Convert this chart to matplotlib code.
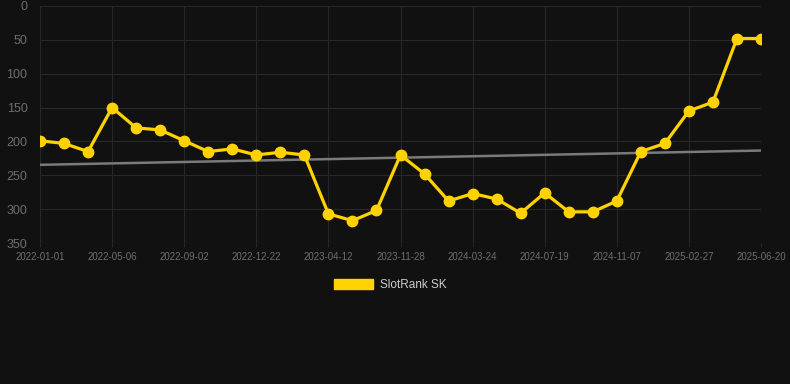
import numpy as np
import matplotlib
matplotlib.use("Agg")
import matplotlib.pyplot as plt
from matplotlib.patches import Patch

plt.rcParams['font.family'] = ['Liberation Sans', 'DejaVu Sans']

values = [199, 203, 215, 150, 180, 183, 199, 215, 211, 220, 216, 220,
          307, 317, 302, 220, 248, 288, 277, 285, 306, 276, 304, 304,
          288, 215, 203, 155, 142, 48, 48]
tick_labels = ["2022-01-01", "2022-05-06", "2022-09-02", "2022-12-22", "2023-04-12",
               "2023-11-28", "2024-03-24", "2024-07-19", "2024-11-07", "2025-02-27",
               "2025-06-20"]
series_name = "SlotRank SK"

bg = "#111111"
gold = "#FFD200"
grid_c = "#282828"

fig = plt.figure(figsize=(7.9, 3.84), dpi=100, facecolor=bg)
W, H = 790, 384
ax = fig.add_axes([40 / W, 1 - 243 / H, (761 - 40) / W, (243 - 6) / H])
ax.set_facecolor(bg)

x = np.arange(len(values))
coef = np.polyfit(x, values, 1)
ax.plot(x, np.polyval(coef, x), color="#7a7a7a", lw=1.8, zorder=2)
ax.plot(x, values, color=gold, lw=2.3, marker="o", ms=7.5, zorder=3)

ax.set_xlim(0, len(values) - 1)
ax.set_ylim(350, 0)
ax.set_yticks(np.arange(0, 351, 50))
ax.set_xticks(x[::3])
ax.set_xticklabels(tick_labels)
ax.grid(True, color=grid_c, lw=0.8)
for s in ax.spines.values():
    s.set_visible(False)
ax.tick_params(axis="y", colors="#6e6e6e", labelsize=9, length=0, pad=9)
ax.tick_params(axis="x", colors=grid_c, labelcolor="#6e6e6e", labelsize=7,
               length=3, width=0.8, pad=3.5)

handle = Patch(facecolor=gold, edgecolor=gold)
leg = fig.legend([handle], [series_name], loc="center", bbox_to_anchor=(390 / W, 1 - 285 / H),
                 frameon=False, fontsize=8.5, handlelength=3.3, handleheight=0.9,
                 handletextpad=0.6)
for t in leg.get_texts():
    t.set_color("#cccccc")

fig.savefig("out.png", dpi=100, facecolor=bg)
